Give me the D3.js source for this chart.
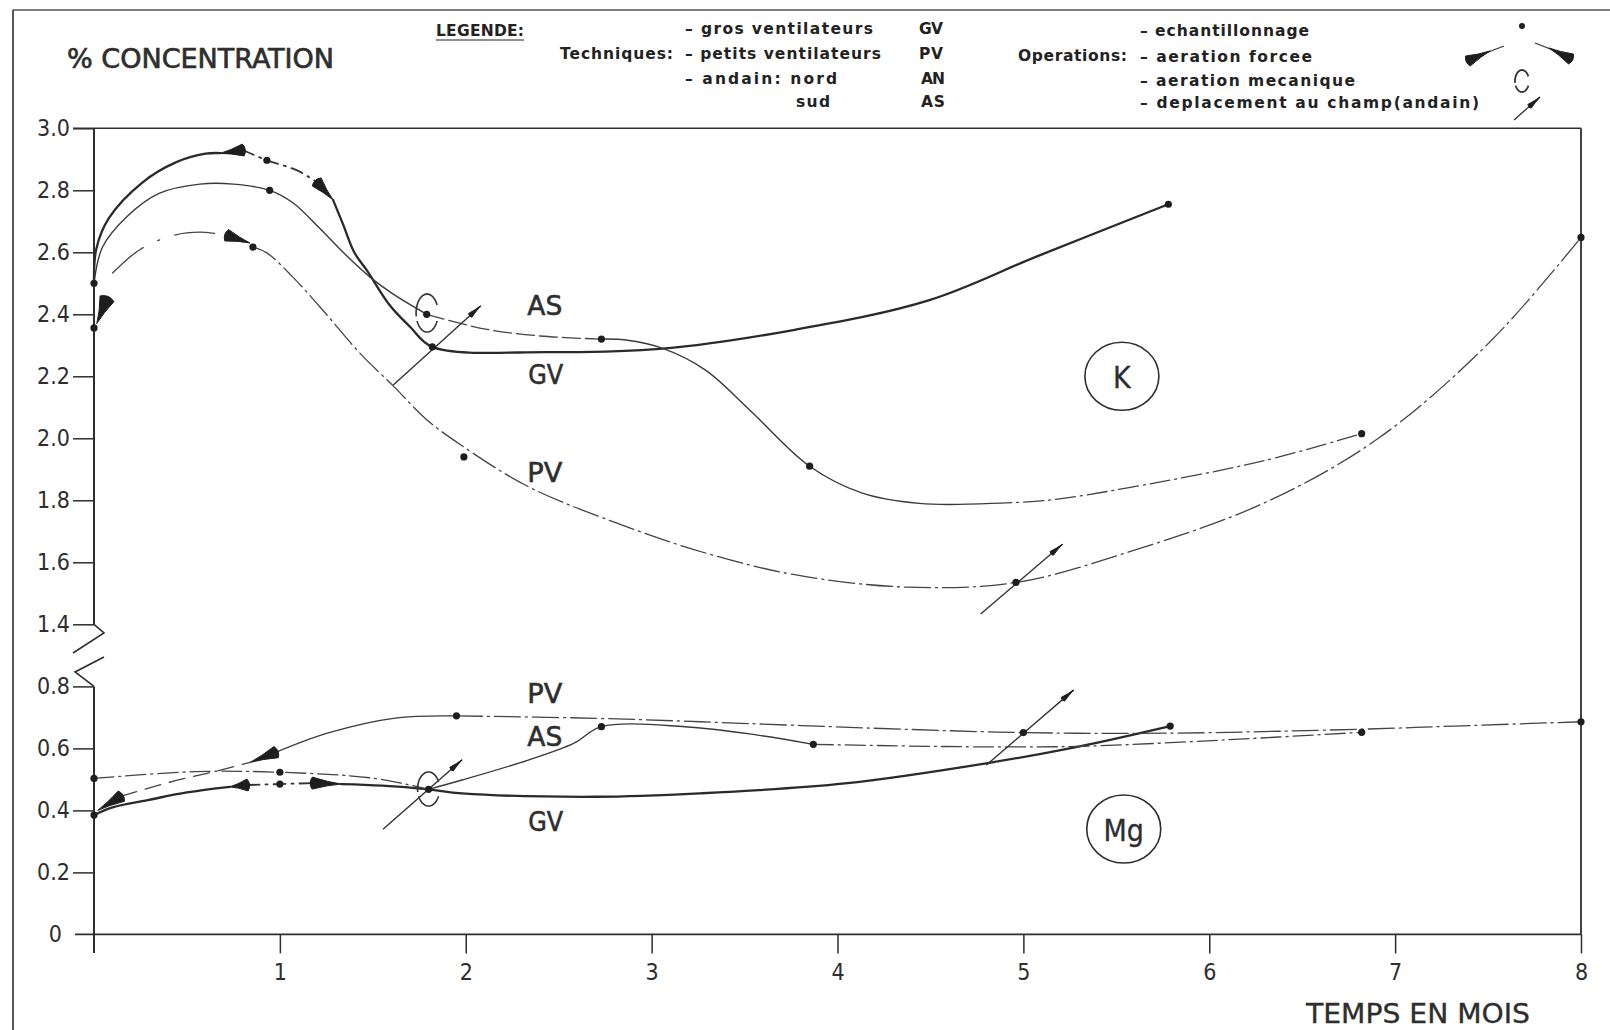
<!DOCTYPE html>
<html><head><meta charset="utf-8">
<script src="https://cdn.jsdelivr.net/npm/d3@7"></script>
<style>
html,body{margin:0;padding:0;background:#fff;}
svg{display:block;background:#fff;}
</style></head><body>
<svg id="c" width="1610" height="1030"></svg>
<script>
// ---------------- DATA (months, % concentration) ----------------
const MONTHS = [1,2,3,4,5,6,7,8];
const K_TICKS = [1.4,1.6,1.8,2.0,2.2,2.4,2.6,2.8,3.0];
const MG_TICKS = [0,0.2,0.4,0.6,0.8];

// Potassium (K) curves, split where the drawn line style changes
const GV_K_1 = [[0,2.50],[0.012,2.61],[0.08,2.71],[0.26,2.825],[0.44,2.89],[0.60,2.918],[0.68,2.92]];
const GV_K_2 = [[0.80,2.93],[0.93,2.897],[1.09,2.865],[1.198,2.827]];
const GV_K_3 = [[1.286,2.769],[1.34,2.69],[1.40,2.60],[1.47,2.54],[1.59,2.43],[1.70,2.36],[1.82,2.295],[2.45,2.278],[3.06,2.289],[3.77,2.35],[4.49,2.445],[5.07,2.586],[5.78,2.755]];
const AS_K_1 = [[0,2.50],[0.046,2.617],[0.175,2.714],[0.35,2.79],[0.57,2.82],[0.75,2.82],[0.945,2.80],[1.07,2.76],[1.21,2.68],[1.34,2.60],[1.485,2.52],[1.61,2.465],[1.79,2.40]];
const AS_K_2 = [[1.79,2.40],[2.09,2.354],[2.4,2.33],[2.73,2.32]];
const AS_K_3 = [[2.73,2.32],[2.86,2.317],[3.06,2.29],[3.29,2.22],[3.53,2.09],[3.85,1.91],[4.13,1.824],[4.44,1.79],[4.83,1.79]];
const AS_K_4 = [[4.83,1.79],[5.13,1.80],[5.56,1.84],[6.29,1.927],[6.82,2.015]];
const PV_K_1 = [[0.1,2.533],[0.25,2.61],[0.43,2.655],[0.57,2.665],[0.714,2.655]];
const PV_K_2 = [[0.855,2.617],[0.93,2.598],[1.07,2.52],[1.25,2.40],[1.43,2.275],[1.615,2.166],[1.79,2.06],[1.97,1.98],[2.33,1.846],[2.81,1.727],[3.29,1.63],[3.77,1.56],[4.37,1.52],[4.96,1.535],[5.56,1.632],[6.29,1.79],[6.91,2.0],[7.52,2.317],[8.0,2.648]];

// Magnesium (Mg) curves
const GV_MG_1 = [[0,0.385],[0.1,0.41],[0.295,0.434],[0.5,0.458],[0.73,0.476]];
const GV_MG_2 = [[0.826,0.482],[1.0,0.485],[1.174,0.488]];
const GV_MG_3 = [[1.33,0.485],[1.55,0.48],[1.80,0.468],[1.98,0.455],[2.70,0.444],[3.26,0.455],[4.04,0.487],[4.80,0.552],[5.29,0.605],[5.79,0.672]];
const PV_MG_1 = [[0.147,0.446],[0.4,0.49],[0.68,0.53],[0.84,0.555]];
const PV_MG_2 = [[0.98,0.588],[1.26,0.65],[1.62,0.698],[1.95,0.705]];
const PV_MG_3 = [[1.95,0.705],[2.7,0.697],[3.26,0.686],[4.2,0.665],[5.0,0.651],[5.76,0.649],[6.82,0.662],[7.32,0.672],[8.0,0.686]];
const AS_MG_1 = [[0,0.503],[0.537,0.525],[1.0,0.523],[1.5,0.504],[1.80,0.468]];
const AS_MG_2 = [[1.80,0.468],[1.98,0.498],[2.34,0.563],[2.58,0.616],[2.73,0.67],[3.18,0.67],[3.57,0.643],[3.87,0.613]];
const AS_MG_3 = [[3.87,0.613],[4.76,0.605],[5.32,0.607],[6.07,0.627],[6.82,0.652]];

// sampling points (echantillonnage)
const K_SAMPLES = [[0,2.50],[0,2.356],[0.855,2.617],[0.93,2.897],[0.945,2.80],[1.79,2.40],[1.82,2.295],[1.99,1.94],[2.73,2.32],[3.85,1.91],[4.96,1.535],[5.78,2.755],[6.82,2.015],[8.0,2.648]];
const MG_SAMPLES = [[0,0.503],[0,0.385],[1.0,0.523],[1.0,0.485],[1.80,0.468],[1.95,0.705],[2.73,0.67],[3.87,0.613],[5.0,0.651],[5.79,0.672],[6.82,0.652],[8.0,0.686]];

// forced aeration arrows: [wide end, pointed end]
const K_ARROWS = [[[0.07,2.45],[0.015,2.37]],[[0.803,2.93],[0.678,2.919]],[[1.198,2.827],[1.286,2.769]],[[0.714,2.655],[0.839,2.63]]];
const MG_ARROWS = [[[0.147,0.446],[0.02,0.40]],[[0.826,0.482],[0.73,0.476]],[[0.98,0.588],[0.84,0.555]],[[1.174,0.488],[1.33,0.485]]];

// field moves (deplacement) [from, to]
const K_MOVES = [[[1.61,2.172],[2.08,2.427]],[[4.77,1.433],[5.21,1.658]]];
const MG_MOVES = [[[1.555,0.339],[1.98,0.563]],[[4.80,0.546],[5.27,0.788]]];

// mechanical aeration (loops)
const K_LOOPS = [[1.792,2.404]];
const MG_LOOPS = [[1.80,0.469]];

// series labels [text, month, value]
const K_LABELS = [["AS",2.425,2.427],["GV",2.43,2.204],["PV",2.425,1.888]];
const MG_LABELS = [["PV",2.425,0.777],["AS",2.425,0.637],["GV",2.43,0.363]];
const ELEMENTS = [["K",5.53,2.20,"K"],["Mg",5.54,0.34,"MG"]];

const LEGEND_TECH = [["– gros ventilateurs","GV"],["– petits ventilateurs","PV"],["– andain: nord","AN"],["sud","AS"]];
const LEGEND_OPS = ["– echantillonnage","– aeration forcee","– aeration mecanique","– deplacement au champ(andain)"];

// ---------------- DRAWING ----------------
const svg = d3.select("#c");
const INK = "#2e2e2e";
const FONT = "'DejaVu Sans Condensed','DejaVu Sans',sans-serif";

const x = d3.scaleLinear().domain([0,8]).range([94,1581]);
const yK = d3.scaleLinear().domain([1.4,3.0]).range([624.3,128.3]);
const yM = d3.scaleLinear().domain([0,0.8]).range([934.4,686.4]);

// page frame
svg.append("line").attr("x1",13).attr("y1",10).attr("x2",1610).attr("y2",10).attr("stroke","#555").attr("stroke-width",1.6);
svg.append("line").attr("x1",13).attr("y1",10).attr("x2",13).attr("y2",1030).attr("stroke","#444").attr("stroke-width",1.8);

// plot box lines
const axisG = svg.append("g").attr("stroke",INK).attr("fill","none");
axisG.append("line").attr("x1",73).attr("y1",yK(3.0)).attr("x2",x(8)).attr("y2",yK(3.0)).attr("stroke-width",1.6);
axisG.append("line").attr("x1",x(8)).attr("y1",yK(3.0)).attr("x2",x(8)).attr("y2",yM(0)).attr("stroke-width",1.8);
axisG.append("line").attr("x1",x(0)).attr("y1",yK(3.0)).attr("x2",x(0)).attr("y2",yK(1.4)).attr("stroke-width",2);
axisG.append("line").attr("x1",x(0)).attr("y1",yM(0.8)).attr("x2",x(0)).attr("y2",953).attr("stroke-width",2);
axisG.append("line").attr("x1",75).attr("y1",yM(0)).attr("x2",x(8)).attr("y2",yM(0)).attr("stroke-width",1.8);
// axis break
axisG.append("path").attr("d",`M${x(0)},${yK(1.4)} L104,633 L73,653`).attr("stroke-width",1.6);
axisG.append("path").attr("d",`M104,657 L75,672 L${x(0)},${yM(0.8)}`).attr("stroke-width",1.6);

function styleAxis(g){
  g.select(".domain").remove();
  g.selectAll(".tick line").attr("stroke",INK).attr("stroke-width",1.5);
  g.selectAll(".tick text").attr("fill",INK).attr("font-family",FONT).attr("font-size",23);
}
const gK = svg.append("g").attr("transform",`translate(${x(0)},0)`)
  .call(d3.axisLeft(yK).tickValues(K_TICKS).tickSize(21).tickPadding(3).tickFormat(d=>d.toFixed(1)));
styleAxis(gK);
const gM = svg.append("g").attr("transform",`translate(${x(0)},0)`)
  .call(d3.axisLeft(yM).tickValues(MG_TICKS).tickSize(21).tickPadding(3).tickFormat(d=>d===0?"0":d.toFixed(1)));
styleAxis(gM);
gM.selectAll(".tick").filter(d=>d===0).select("line").remove();
gM.selectAll(".tick").filter(d=>d===0).select("text").attr("dx",-8);
const gX = svg.append("g").attr("transform",`translate(0,${yM(0)})`)
  .call(d3.axisBottom(x).tickValues(MONTHS).tickSize(19).tickPadding(10).tickFormat(d3.format("d")));
styleAxis(gX);

// curves
const lineK = d3.line().x(d=>x(d[0])).y(d=>yK(d[1])).curve(d3.curveCatmullRom.alpha(0.5));
const lineM = d3.line().x(d=>x(d[0])).y(d=>yM(d[1])).curve(d3.curveCatmullRom.alpha(0.5));
const STY = {
  gv:{w:2.3,dash:null,c:"#2a2a2a"},
  gvdd:{w:1.8,dash:"12,6,2,6",c:"#333"},
  as:{w:1.4,dash:null,c:"#3a3a3a"},
  asd:{w:1.3,dash:"18,5",c:"#444"},
  asdd:{w:1.3,dash:"20,5,2,5",c:"#444"},
  pv:{w:1.3,dash:"26,5,2,5",c:"#444"},
  pvlong:{w:1.3,dash:"40,16,2,16",c:"#444"},
  pvdash:{w:1.3,dash:"16,9",c:"#444"},
  pvs:{w:1.3,dash:null,c:"#3a3a3a"}
};
const curveG = svg.append("g").attr("fill","none").attr("stroke-linecap","round");
function drawCurve(pts, gen, s){
  const st = STY[s];
  curveG.append("path").attr("d",gen(pts)).attr("stroke",st.c).attr("stroke-width",st.w)
    .attr("stroke-dasharray",st.dash);
}
[[GV_K_1,"gv"],[GV_K_2,"gvdd"],[GV_K_3,"gv"],[AS_K_1,"as"],[AS_K_2,"asd"],[AS_K_3,"as"],[AS_K_4,"asdd"],[PV_K_1,"pvlong"],[PV_K_2,"pv"]]
  .forEach(([p,s])=>drawCurve(p,lineK,s));
[[GV_MG_1,"gv"],[GV_MG_2,"gvdd"],[GV_MG_3,"gv"],[PV_MG_1,"pvdash"],[PV_MG_2,"pvs"],[PV_MG_3,"pv"],[AS_MG_1,"asdd"],[AS_MG_2,"as"],[AS_MG_3,"asdd"]]
  .forEach(([p,s])=>drawCurve(p,lineM,s));

// symbols
const symG = svg.append("g");
function dart(B,T,w){
  const dx=T[0]-B[0], dy=T[1]-B[1], L=Math.hypot(dx,dy), ux=dx/L, uy=dy/L, nx=-uy, ny=ux;
  const b1=[B[0]+nx*w/2,B[1]+ny*w/2], b2=[B[0]-nx*w/2,B[1]-ny*w/2];
  const m1=[B[0]+dx*0.55+nx*w*0.12,B[1]+dy*0.55+ny*w*0.12], m2=[B[0]+dx*0.55-nx*w*0.12,B[1]+dy*0.55-ny*w*0.12];
  const c=[B[0]-ux*w*0.35,B[1]-uy*w*0.35];
  symG.append("path")
    .attr("d",`M${b1} Q${m1} ${T} Q${m2} ${b2} Q${c} ${b1}Z`)
    .attr("fill","#1e1e1e").attr("stroke","#1e1e1e").attr("stroke-width",1).attr("stroke-linejoin","round");
}
K_ARROWS.forEach(([b,t],i)=>dart([x(b[0]),yK(b[1])],[x(t[0]),yK(t[1])], i===0?15:12));
MG_ARROWS.forEach(([b,t])=>dart([x(b[0]),yM(b[1])],[x(t[0]),yM(t[1])],12));

function move(P1,P2){
  symG.append("line").attr("x1",P1[0]).attr("y1",P1[1]).attr("x2",P2[0]).attr("y2",P2[1])
    .attr("stroke","#333").attr("stroke-width",1.4);
  const dx=P2[0]-P1[0], dy=P2[1]-P1[1], L=Math.hypot(dx,dy);
  dart([P2[0]-dx/L*14,P2[1]-dy/L*14],P2,5);
}
K_MOVES.forEach(([a,b])=>move([x(a[0]),yK(a[1])],[x(b[0]),yK(b[1])]));
MG_MOVES.forEach(([a,b])=>move([x(a[0]),yM(a[1])],[x(b[0]),yM(b[1])]));

function loop(cx,cy,rx,ry,sw){
  const arc=(a0,a1)=>{
    const pts=d3.range(a0,a1+1,5).map(a=>{const r=a*Math.PI/180;return [cx+rx*Math.sin(r),cy-ry*Math.cos(r)];});
    return d3.line()(pts);
  };
  symG.append("path").attr("d",arc(-100,65)).attr("fill","none").attr("stroke","#333").attr("stroke-width",sw||1.6);
  symG.append("path").attr("d",arc(115,245)).attr("fill","none").attr("stroke","#333").attr("stroke-width",sw||1.6);
}
K_LOOPS.forEach(d=>loop(x(d[0]),yK(d[1]),11,19));
MG_LOOPS.forEach(d=>loop(x(d[0]),yM(d[1]),11,17));

// sample dots
symG.selectAll("circle.k").data(K_SAMPLES).join("circle").attr("class","k")
  .attr("cx",d=>x(d[0])).attr("cy",d=>yK(d[1])).attr("r",3.6).attr("fill","#1e1e1e");
symG.selectAll("circle.m").data(MG_SAMPLES).join("circle").attr("class","m")
  .attr("cx",d=>x(d[0])).attr("cy",d=>yM(d[1])).attr("r",3.6).attr("fill","#1e1e1e");

// labels
const labG = svg.append("g").attr("font-family",FONT).attr("fill",INK);
function lab(t,px,py){
  labG.append("text").attr("x",px).attr("y",py).attr("text-anchor","middle").attr("dominant-baseline","central")
    .attr("font-size",26).attr("textLength",35).attr("lengthAdjust","spacingAndGlyphs")
    .attr("stroke",INK).attr("stroke-width",0.5).text(t);
}
K_LABELS.forEach(d=>lab(d[0],x(d[1]),yK(d[2])));
MG_LABELS.forEach(d=>lab(d[0],x(d[1]),yM(d[2])));
ELEMENTS.forEach(d=>{
  const ys = d[3]==="K"?yK:yM;
  const cx=x(d[1]), cy=ys(d[2]);
  labG.append("ellipse").attr("cx",cx).attr("cy",cy).attr("rx",37).attr("ry",34).attr("fill","none").attr("stroke",INK).attr("stroke-width",1.6);
  labG.append("text").attr("x",cx).attr("y",cy+1).attr("text-anchor","middle").attr("dominant-baseline","central")
    .attr("font-size",30).attr("stroke",INK).attr("stroke-width",0.3).text(d[0]);
});

// titles
labG.append("text").attr("x",67).attr("y",67.5).attr("font-size",27).attr("textLength",267).attr("lengthAdjust","spacingAndGlyphs")
  .attr("stroke",INK).attr("stroke-width",0.6).text("% CONCENTRATION");
labG.append("text").attr("x",1306).attr("y",1023).attr("font-size",26).attr("textLength",224).attr("lengthAdjust","spacingAndGlyphs")
  .attr("stroke",INK).attr("stroke-width",0.3).text("TEMPS EN MOIS");

// legend
const legG = svg.append("g").attr("font-family","'DejaVu Sans',sans-serif").attr("font-weight","bold").attr("font-size",15.5).attr("fill","#222");
function lt(t,px,py,len){
  legG.append("text").attr("x",px).attr("y",py).attr("textLength",len).attr("lengthAdjust","spacing").text(t);
}
lt("LEGENDE:",436,36,88);
legG.append("line").attr("x1",436).attr("y1",40).attr("x2",524).attr("y2",40).attr("stroke","#222").attr("stroke-width",1.2);
lt("Techniques:",560,59,113);
const techX=[685,685,685,796], techLen=[188,196,152,34], techY=[34,59,83.5,107];
LEGEND_TECH.forEach((d,i)=>{ lt(d[0],techX[i],techY[i],techLen[i]); lt(d[1],i<2?919:921,techY[i],24); });
lt("Operations:",1018,61,109);
const opsLen=[169,172,215,339], opsY=[36,61.5,86,108];
LEGEND_OPS.forEach((d,i)=>lt(d,1140,opsY[i],opsLen[i]));
// legend symbols
symG.append("circle").attr("cx",1522).attr("cy",26).attr("r",3).attr("fill","#1e1e1e");
symG.append("line").attr("x1",1478).attr("y1",56).attr("x2",1504).attr("y2",46).attr("stroke","#333").attr("stroke-width",1.3);
dart([1468,61],[1490,51],11);
symG.append("line").attr("x1",1535).attr("y1",43).attr("x2",1558).attr("y2",52).attr("stroke","#333").attr("stroke-width",1.3);
dart([1571,59],[1549,48],11);
loop(1522,81,7,11,1.8);
move([1514,120],[1540,97]);
</script>
</body></html>
